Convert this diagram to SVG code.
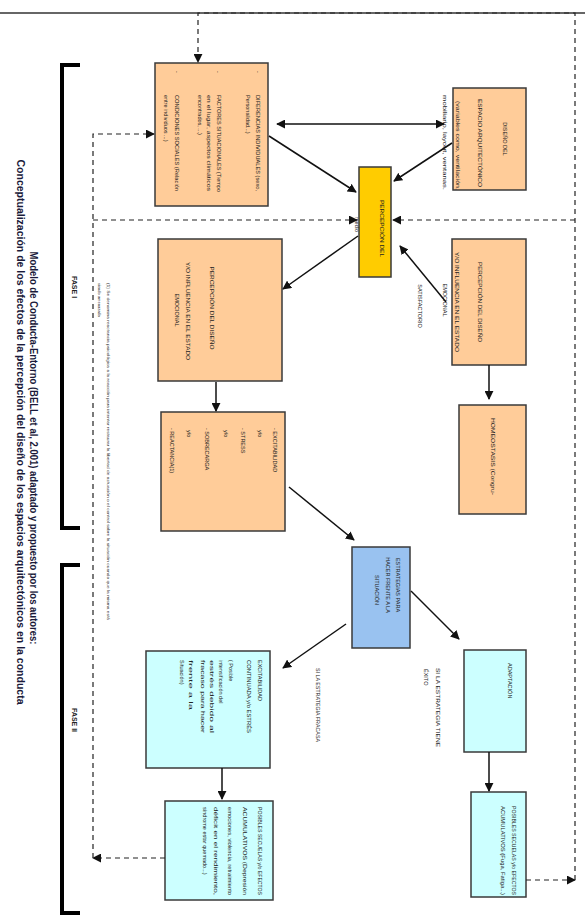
<svg xmlns="http://www.w3.org/2000/svg" width="585" height="921" viewBox="0 0 585 921">
<defs>
<marker id="ah" viewBox="0 0 10 10" refX="9" refY="5" markerWidth="9" markerHeight="9" markerUnits="userSpaceOnUse" orient="auto-start-reverse"><path d="M0,0 L10,5 L0,10 z" fill="#111"/></marker>
<style>
.ob{fill:#FFCC99;stroke:#3a3a3a;stroke-width:1.5}
.yb{fill:#FFCC00;stroke:#3a3a3a;stroke-width:1.5}
.bb{fill:#99C2F0;stroke:#3a3a3a;stroke-width:1.5}
.cb{fill:#CCFFFF;stroke:#3a3a3a;stroke-width:1.5}
text{font-family:"Liberation Sans",Arial,sans-serif;fill:#222;font-size:5.5px}
.m{text-anchor:middle}
.sol{fill:none;stroke:#111;stroke-width:1.5}
.dash{fill:none;stroke:#222;stroke-width:1.2;stroke-dasharray:5 4}
.br{fill:none;stroke:#000;stroke-width:4}
.ti{font-size:10px;font-weight:bold;fill:#1a1a3a}
.fa{font-size:7px;font-weight:bold}
.fn{font-size:4px}
</style>
</defs>
<rect width="585" height="921" fill="#fff"/>
<line x1="0" y1="13" x2="585" y2="13" stroke="#333" stroke-width="1.5"/>

<g id="title" transform="rotate(90)">
<text class="ti m" x="448" y="-30" textLength="393" lengthAdjust="spacingAndGlyphs">Modelo de Conducta-Entorno (BELL et al, 2.001) adaptado y propuesto por los autores:</text>
<text class="ti m" x="432" y="-17" textLength="545" lengthAdjust="spacingAndGlyphs">Conceptualización de los efectos de la percepción del diseño de los espacios arquitectónicos en la conducta</text>
</g>

<g id="fases">
<path class="br" d="M80,65 H62 V528 H80"/>
<path class="br" d="M80,565 H62 V913 H80"/>
<g transform="rotate(90)">
<text class="fa m" x="287" y="-72">FASE I</text>
<text class="fa m" x="720" y="-72">FASE II</text>
</g>
</g>

<g id="nota" transform="rotate(90)">
<text class="fn" x="283" y="-107" textLength="337" lengthAdjust="spacingAndGlyphs">(1) Se denomina reactancia psicológica a la reacción para intentar restaurar la libertad de actuación o el control sobre la situación cuando que la misma está</text>
<text class="fn" x="283" y="-98">siendo amenazada</text>
</g>

<g id="n-factores">
<rect class="ob" x="155" y="63" width="113" height="143"/>
<g transform="rotate(90)">
<text x="71" y="-256">-</text><text x="71" y="-216">-</text><text x="71" y="-175">-</text>
<text x="95" y="-256" textLength="96" lengthAdjust="spacingAndGlyphs">DIFERENCIAS INDIVIDUALES (sexo,</text>
<text x="95" y="-246">Personalidad...)</text>
<text x="95" y="-217" textLength="97" lengthAdjust="spacingAndGlyphs">FACTORES SITUACIONALES (Tiempo</text>
<text x="95" y="-207" textLength="96" lengthAdjust="spacingAndGlyphs">en el lugar, aspectos climáticos</text>
<text x="95" y="-198">encontrados, ...)</text>
<text x="95" y="-175" textLength="96" lengthAdjust="spacingAndGlyphs">CONDICIONES SOCIALES (Relación</text>
<text x="95" y="-164">entre individuos        ...)</text>
</g>
</g>

<g id="n-diseno">
<rect class="ob" x="453" y="88" width="73" height="102"/>
<g transform="rotate(90)">
<text class="m" x="139" y="-503">DISEÑO DEL</text>
<text class="m" x="143" y="-478" textLength="88" lengthAdjust="spacingAndGlyphs">ESPACIO ARQUITECTÓNICO</text>
<text x="101" y="-456" textLength="89" lengthAdjust="spacingAndGlyphs">(variables como, ventilación,</text>
<text x="95" y="-443" textLength="95" lengthAdjust="spacingAndGlyphs">mobiliario, layout, ventanas.</text>
</g>
</g>

<g id="n-percepcion">
<rect class="yb" x="359" y="167" width="32" height="110"/>
<g transform="rotate(90)">
<text x="200" y="-380" textLength="57" lengthAdjust="spacingAndGlyphs">PERCEPCIÓN DEL</text>
<text x="217" y="-355">medio</text>
</g>
</g>

<g id="n-influencia">
<rect class="ob" x="158" y="239" width="124" height="142"/>
<g transform="rotate(90)">
<text class="m" x="308" y="-210" textLength="83" lengthAdjust="spacingAndGlyphs">PERCEPCIÓN DEL DISEÑO</text>
<text class="m" x="311" y="-186" textLength="98" lengthAdjust="spacingAndGlyphs">Y/O INFLUENCIA EN EL ESTADO</text>
<text class="m" x="310" y="-175">EMOCIONAL</text>
</g>
</g>

<g id="n-satisfactorio">
<rect class="ob" x="452" y="239" width="74" height="126"/>
<g transform="rotate(90)">
<text class="m" x="302" y="-478" textLength="80" lengthAdjust="spacingAndGlyphs">PERCEPCIÓN DEL DISEÑO</text>
<text class="m" x="302" y="-455" textLength="100" lengthAdjust="spacingAndGlyphs">Y/O INFLUENCIA EN EL ESTADO</text>
<text class="m" x="300" y="-443">EMOCIONAL</text>
<text class="m" x="306" y="-418">SATISFACTORIO</text>
</g>
</g>

<g id="n-homeostasis">
<rect class="ob" x="459" y="405" width="67" height="109"/>
<g transform="rotate(90)">
<text x="418" y="-491" textLength="77" lengthAdjust="spacingAndGlyphs">HOMEOSTASIS (Congru-</text>
</g>
</g>

<g id="n-excitabilidad">
<rect class="ob" x="161" y="412" width="124" height="119"/>
<g transform="rotate(90)">
<text x="428" y="-273">- EXCITABILIDAD</text>
<text x="430" y="-258">y/o</text>
<text x="428" y="-241">- STRESS</text>
<text x="430" y="-224">y/o</text>
<text x="428" y="-205">- SOBRECARGA</text>
<text x="430" y="-187">y/o</text>
<text x="428" y="-170">- REACTANCIA(1)</text>
</g>
</g>

<g id="n-estrategias">
<rect class="bb" x="352" y="547" width="58" height="101"/>
<g transform="rotate(90)">
<text class="m" x="585" y="-396">ESTRATEGIAS PARA</text>
<text class="m" x="585" y="-386">HACER FRENTE A LA</text>
<text class="m" x="590" y="-375">SITUACIÓN</text>
</g>
</g>

<g id="n-adaptacion">
<rect class="cb" x="464" y="650" width="62" height="102"/>
<g transform="rotate(90)">
<text x="663" y="-508">ADAPTACIÓN</text>
</g>
</g>

<g id="n-secuelas-exito">
<rect class="cb" x="471" y="792" width="55" height="105"/>
<g transform="rotate(90)">
<text x="806" y="-512" textLength="89" lengthAdjust="spacingAndGlyphs">POSIBLES SECUELAS y/o EFECTOS</text>
<text x="806" y="-501" textLength="89" lengthAdjust="spacingAndGlyphs">ACUMULATIVOS (Fuga, Fatiga...)</text>
</g>
</g>

<g id="n-continuada">
<rect class="cb" x="146" y="651" width="124" height="117"/>
<g transform="rotate(90)">
<text x="660" y="-258">EXCITABILIDAD</text>
<text x="660" y="-247" textLength="73" lengthAdjust="spacingAndGlyphs">CONTINUADA y/o ESTRÉS</text>
<text x="660" y="-229">( Posible</text>
<text x="660" y="-219">intensificación del</text>
<text x="660" y="-210" textLength="73" lengthAdjust="spacingAndGlyphs">estrés       debido       al</text>
<text x="660" y="-201" textLength="73" lengthAdjust="spacingAndGlyphs">fracaso para hacer</text>
<text x="660" y="-189" textLength="50" lengthAdjust="spacingAndGlyphs">frente      a      la</text>
<text x="660" y="-180">Situación)</text>
</g>
</g>

<g id="n-secuelas-fracaso">
<rect class="cb" x="165" y="801" width="108" height="99"/>
<g transform="rotate(90)">
<text x="807" y="-258" textLength="88" lengthAdjust="spacingAndGlyphs">POSIBLES SECUELAS y/o EFECTOS</text>
<text x="807" y="-243" textLength="88" lengthAdjust="spacingAndGlyphs">ACUMULATIVOS          (Depresión</text>
<text x="807" y="-228" textLength="88" lengthAdjust="spacingAndGlyphs">emociones, violencia, retraimiento</text>
<text x="807" y="-214" textLength="88" lengthAdjust="spacingAndGlyphs">déficit     en     el     rendimiento,</text>
<text x="807" y="-203">síndrome estar quemado...)</text>
</g>
</g>

<g id="labels" transform="rotate(90)">
<text x="668" y="-436" textLength="79" lengthAdjust="spacingAndGlyphs">SI LA ESTRATEGIA TIENE</text>
<text x="669" y="-424">ÉXITO</text>
<text x="668" y="-316" textLength="74" lengthAdjust="spacingAndGlyphs">SI LA ESTRATEGIA FRACASA</text>
</g>

<g id="connectors">
<line class="sol" x1="277" y1="124" x2="444" y2="124" marker-start="url(#ah)" marker-end="url(#ah)"/>
<line class="sol" x1="269" y1="136" x2="356" y2="192" marker-end="url(#ah)"/>
<line class="sol" x1="452" y1="143" x2="394" y2="181" marker-end="url(#ah)"/>
<line class="sol" x1="358" y1="236" x2="283" y2="289" marker-end="url(#ah)"/>
<line class="sol" x1="446" y1="302" x2="400" y2="246" marker-end="url(#ah)"/>
<line class="sol" x1="216" y1="382" x2="216" y2="411" marker-end="url(#ah)"/>
<line class="sol" x1="489" y1="365" x2="489" y2="399" marker-end="url(#ah)"/>
<line class="sol" x1="289" y1="487" x2="354" y2="540" marker-end="url(#ah)"/>
<line class="sol" x1="411" y1="591" x2="459" y2="639" marker-end="url(#ah)"/>
<line class="sol" x1="346" y1="624" x2="283" y2="668" marker-end="url(#ah)"/>
<line class="sol" x1="489" y1="752" x2="489" y2="791" marker-end="url(#ah)"/>
<line class="sol" x1="222" y1="768" x2="222" y2="799" marker-end="url(#ah)"/>
<line class="dash" x1="165" y1="858" x2="93" y2="858" marker-end="url(#ah)"/>
<path class="dash" d="M93,858 V134 H154" marker-end="url(#ah)"/>
<path class="dash" d="M93,220 H357" marker-end="url(#ah)"/>
<line class="dash" x1="526" y1="880" x2="575" y2="880" marker-end="url(#ah)"/>
<path class="dash" d="M575,880 V13 H198 V62" marker-end="url(#ah)"/>
<path class="dash" d="M575,220 H393" marker-end="url(#ah)"/>
</g>
</svg>
